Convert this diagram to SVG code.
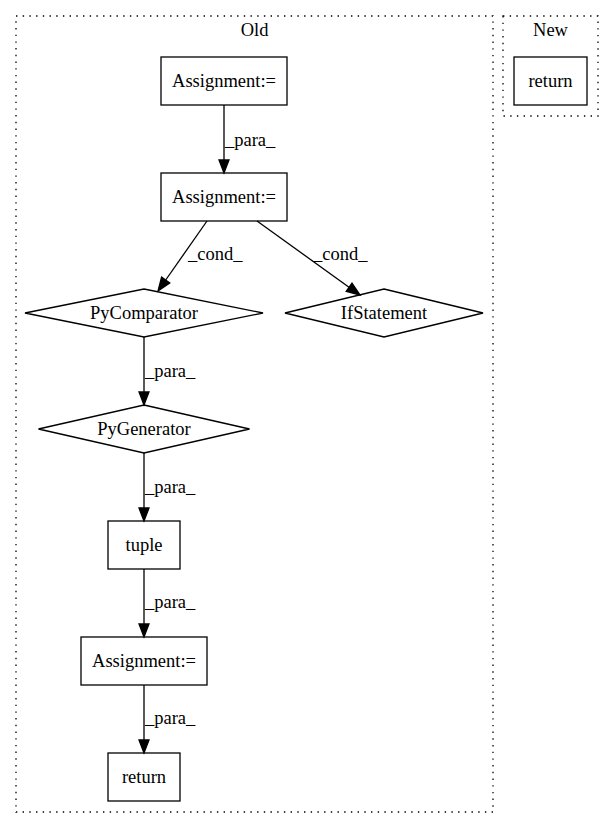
<svg xmlns="http://www.w3.org/2000/svg" width="613" height="828" viewBox="0 0 613 828">
<style>
text { font-family: "Liberation Serif", "Times New Roman", serif; font-size: 18.5px; fill: #000; }
.node text { text-anchor: middle; }
.node rect, .node polygon { fill: none; stroke: #000; stroke-width: 1.3; }
.cluster rect { fill: none; stroke: #000; stroke-width: 1.3; stroke-dasharray: 1.4,5.3; }
.cluster text { text-anchor: middle; }
.edge line { stroke: #000; stroke-width: 1.3; }
.edge polygon { fill: #000; stroke: #000; stroke-width: 1.3; }
</style>
<rect x="0" y="0" width="613" height="828" fill="#fff"/>
<g id="cluster_old" class="cluster">
  <rect x="16" y="16" width="477" height="796"/>
  <text x="254.5" y="36">Old</text>
</g>
<g id="cluster_new" class="cluster">
  <rect x="503" y="16" width="95" height="100"/>
  <text x="550.5" y="36">New</text>
</g>
<g id="edges">
  <g class="edge">
    <line x1="224" y1="105" x2="224" y2="160"/>
    <polygon points="224,173 219,160 229,160"/>
    <text x="225" y="146">_para_</text>
  </g>
  <g class="edge">
    <line x1="207" y1="221" x2="165.7" y2="280"/>
    <polygon points="158,291 169.8,282.9 161.6,277.1"/>
    <text x="188" y="260">_cond_</text>
  </g>
  <g class="edge">
    <line x1="257" y1="221" x2="349" y2="287.2"/>
    <polygon points="360,295 346.2,291.3 352,283.1"/>
    <text x="313" y="260">_cond_</text>
  </g>
  <g class="edge">
    <line x1="144" y1="337" x2="144" y2="392"/>
    <polygon points="144,405 139,392 149,392"/>
    <text x="145" y="377">_para_</text>
  </g>
  <g class="edge">
    <line x1="144" y1="453" x2="144" y2="508"/>
    <polygon points="144,521 139,508 149,508"/>
    <text x="145" y="493">_para_</text>
  </g>
  <g class="edge">
    <line x1="144" y1="569" x2="144" y2="624"/>
    <polygon points="144,637 139,624 149,624"/>
    <text x="145" y="608">_para_</text>
  </g>
  <g class="edge">
    <line x1="144" y1="685" x2="144" y2="740"/>
    <polygon points="144,753 139,740 149,740"/>
    <text x="145" y="724">_para_</text>
  </g>
</g>
<g id="assign1" class="node">
  <rect x="161" y="57" width="126" height="48"/>
  <text x="224" y="87">Assignment:=</text>
</g>
<g id="assign2" class="node">
  <rect x="161" y="173" width="126" height="48"/>
  <text x="224" y="203">Assignment:=</text>
</g>
<g id="pycomparator" class="node">
  <polygon points="144,289 263,313 144,337 25,313"/>
  <text x="144" y="319">PyComparator</text>
</g>
<g id="ifstatement" class="node">
  <polygon points="384,289 483,313 384,337 285,313"/>
  <text x="384" y="319">IfStatement</text>
</g>
<g id="pygenerator" class="node">
  <polygon points="144,405 249.5,429 144,453 38.5,429"/>
  <text x="144" y="435">PyGenerator</text>
</g>
<g id="tuple" class="node">
  <rect x="108" y="521" width="72" height="48"/>
  <text x="144" y="551">tuple</text>
</g>
<g id="assign3" class="node">
  <rect x="81" y="637" width="126" height="48"/>
  <text x="144" y="667">Assignment:=</text>
</g>
<g id="return_old" class="node">
  <rect x="108" y="753" width="72" height="48"/>
  <text x="144" y="783">return</text>
</g>
<g id="return_new" class="node">
  <rect x="514" y="57" width="73" height="48"/>
  <text x="550.5" y="87">return</text>
</g>
</svg>
